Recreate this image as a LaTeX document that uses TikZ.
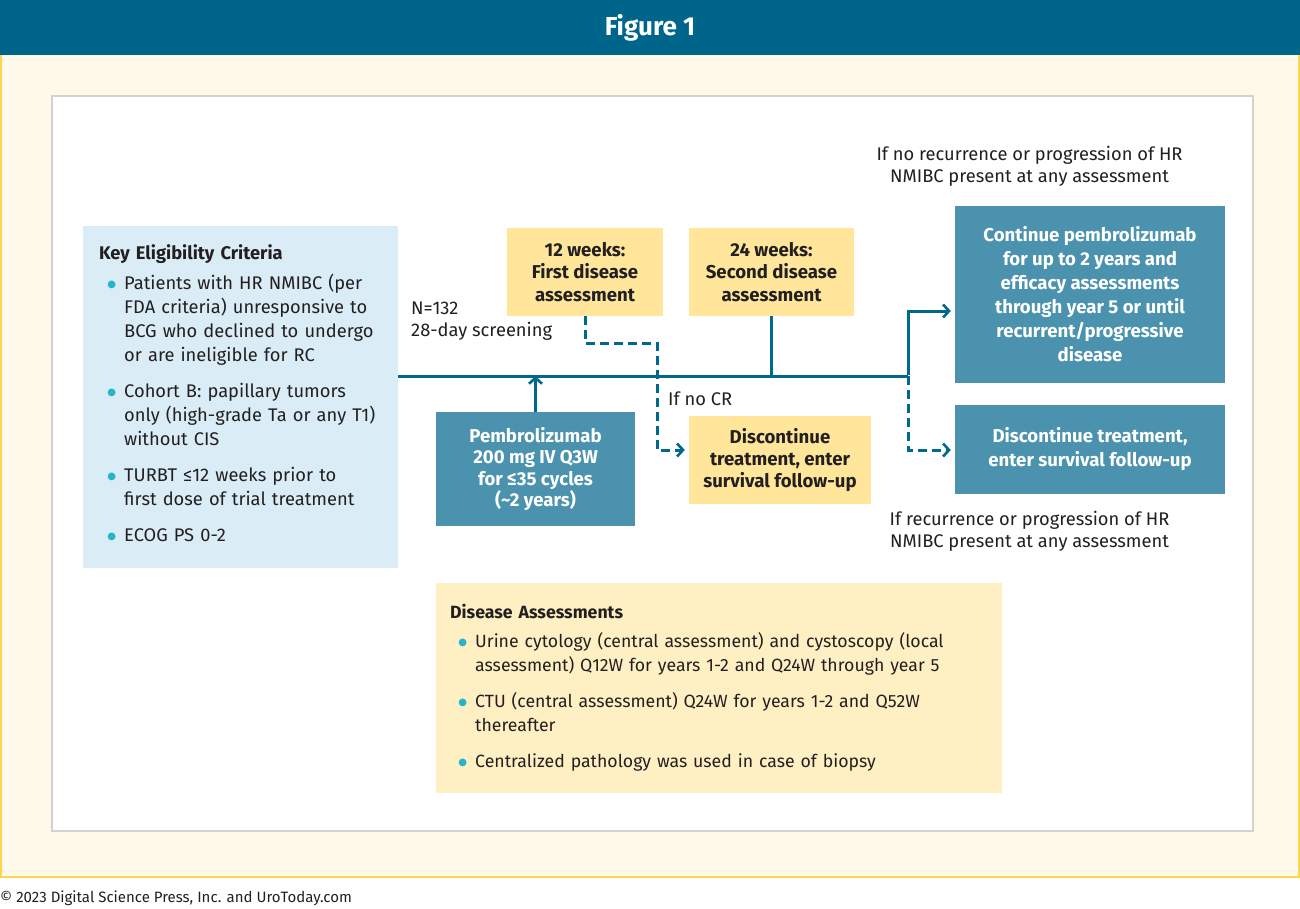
\documentclass[tikz,border=0pt]{standalone}
\usepackage{fontspec}
\setmainfont{Fira Sans}
\newfontfamily\symfont{DejaVu Sans}
\usetikzlibrary{arrows.meta}
\definecolor{hdr}{RGB}{0,101,139}
\definecolor{cream}{RGB}{255,249,234}
\definecolor{ybord}{RGB}{255,213,79}
\definecolor{pgray}{RGB}{210,210,210}
\definecolor{lblue}{RGB}{218,236,245}
\definecolor{mblue}{RGB}{74,146,174}
\definecolor{lnc}{RGB}{0,104,140}
\definecolor{ybox}{RGB}{255,230,155}
\definecolor{lyel}{RGB}{255,240,196}
\definecolor{dotc}{RGB}{38,180,200}
\definecolor{txt}{RGB}{35,31,32}
\newcommand\dotmark{\textcolor{dotc}{\raisebox{1.5pt}{\symfont\fontsize{10}{10}\selectfont ●}}}
\newcommand\bul[1]{{\leftskip=25pt\noindent\llap{\dotmark\hspace{8pt}}#1\par}}
\tikzset{
  fsz/.style={font=\fontsize{18.3}{#1}\selectfont},
  bfs/.style={font=\bfseries\fontsize{18.6}{#1}\selectfont},
  bluebox/.style={fill=mblue, draw=none, text=white, align=center, inner sep=0pt},
  yelbox/.style={fill=ybox, draw=none, text=txt, align=center, inner sep=0pt},
  plainbox/.style={draw=none, inner sep=0pt},
  lbl/.style={text=txt, inner sep=0pt},
  flow/.style={draw=lnc, line width=3pt},
  dflow/.style={draw=lnc, line width=3pt, dash pattern=on 9pt off 5pt},
  tip/.style={-{Straight Barb[length=6pt,width=13pt,line width=2.6pt]}, shorten >=4pt},
}
\begin{document}
\begin{tikzpicture}[x=1pt,y=-1pt]
\useasboundingbox (0,0) rectangle (1300,909);
% frame
\path[fill=cream, draw=ybord, line width=2pt] (1,50) rectangle (1299,877);
\node[plainbox, fill=hdr, minimum width=1300pt, minimum height=55pt, anchor=north west] (header) at (0,0) {};
\node[text=white, inner sep=0pt, font=\bfseries\fontsize{26}{30}\selectfont] (title) at (650,28) {Figure 1};
\node[plainbox, fill=white, draw=pgray, line width=2pt, minimum width=1201pt, minimum height=735pt] (panel) at (652.5,463.5) {};
\node[lbl, anchor=base west, font=\fontsize{15}{18}\selectfont] (copy) at (0,902) {© 2023 Digital Science Press, Inc. and UroToday.com};

% eligibility
\node[plainbox, fill=lblue, minimum width=315pt, minimum height=342pt] (elig) at (240.5,397) {};
\node[lbl, anchor=base west, text width=300pt, align=left, fsz=24] (eligtxt) at (99,259) {%
\textbf{Key Eligibility Criteria}\par\vspace{6pt}
\bul{Patients with HR NMIBC (per\newline FDA criteria) unresponsive to\newline BCG who declined to undergo\newline or are ineligible for RC}\vspace{12pt}
\bul{Cohort B: papillary tumors\newline only (high-grade Ta or any T1)\newline without CIS}\vspace{12pt}
\bul{TURBT ≤12 weeks prior to\newline first dose of trial treatment}\vspace{12pt}
\bul{ECOG PS 0-2}};

% boxes
\node[bluebox, bfs=21.3, minimum width=199pt, minimum height=114pt] (pembro) at (535.5,469) {Pembrolizumab\\200 mg IV Q3W\\for ≤35 cycles\\(\textasciitilde2 years)};
\node[yelbox, bfs=22.5, minimum width=156pt, minimum height=88pt] (w12) at (585,272) {12 weeks:\\First disease\\assessment};
\node[yelbox, bfs=22.5, minimum width=165pt, minimum height=88pt] (w24) at (771.5,272) {24 weeks:\\Second disease\\assessment};
\node[yelbox, bfs=22, minimum width=182pt, minimum height=88pt] (disc1) at (780,460) {Discontinue\\treatment, enter\\survival follow-up};
\node[bluebox, bfs=24, minimum width=270pt, minimum height=177pt] (cont) at (1090,294.5) {Continue pembrolizumab\\for up to 2 years and\\efficacy assessments\\through year 5 or until\\recurrent/progressive\\disease};
\node[bluebox, bfs=24, minimum width=270pt, minimum height=89pt] (disc2) at (1090,449.5) {Discontinue treatment,\\enter survival follow-up};

% labels
\node[lbl, align=center, fsz=22] (noprog) at (1029.5,166) {If no recurrence or progression of HR\\NMIBC present at any assessment};
\node[lbl, align=center, fsz=22] (prog) at (1029.5,531) {If recurrence or progression of HR\\NMIBC present at any assessment};
\node[lbl, align=left, anchor=base west, fsz=22.5] (nlab) at (411,336.5) {N=132\\28-day screening};
\node[lbl, anchor=base west, fsz=22] (nocr) at (668,405) {If no CR};

% disease assessments
\node[plainbox, fill=lyel, minimum width=566pt, minimum height=210pt] (dis) at (719,688) {};
\node[lbl, anchor=base west, text width=550pt, align=left, font=\fontsize{17.7}{24}\selectfont] (distxt) at (450,618) {%
\textbf{Disease Assessments}\par\vspace{5pt}
\bul{Urine cytology (central assessment) and cystoscopy (local\newline assessment) Q12W for years 1-2 and Q24W through year 5}\vspace{12pt}
\bul{CTU (central assessment) Q24W for years 1-2 and Q52W\newline thereafter}\vspace{12pt}
\bul{Centralized pathology was used in case of biopsy}};

% connectors
\coordinate (split) at (908,376);
\coordinate (up) at (908,311);
\coordinate (down) at (908,450);
\coordinate (d1) at (657,343);
\coordinate (d2) at (657,450);
\draw[flow] (elig.east |- split) -- (split);
\draw[flow, tip] (pembro.north) -- ([yshift=4pt]pembro.north |- split);
\draw[flow] (w24.south) -- (w24.south |- split);
\draw[flow, tip, line join=miter] ([yshift=1.5pt]split) -- (up) -- (cont.west |- up);
\draw[dflow, tip] (split) -- (down) -- (disc2.west |- down);
\draw[dflow, tip] (w12.south) |- (d1) -- (d2) -- (disc1.west |- d2);
\end{tikzpicture}
\end{document}
